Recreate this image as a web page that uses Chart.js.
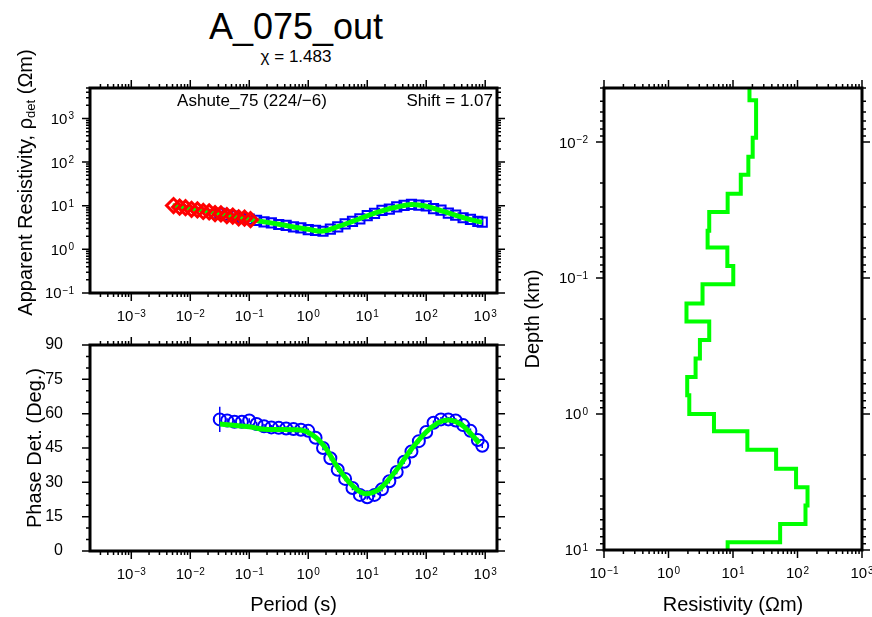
<!DOCTYPE html>
<html>
<head>
<meta charset="utf-8">
<script src="https://cdn.jsdelivr.net/npm/chart.js@4.4.1/dist/chart.umd.min.js"></script>
<style>
  html, body { margin: 0; padding: 0; background: #fff; }
  #wrap { position: relative; width: 872px; height: 617px; font-family: "Liberation Sans", Arial, sans-serif; color: #000; }
  #wrap canvas { position: absolute; left: 0; top: 0; }
  .title { position: absolute; left: 96px; width: 400px; text-align: center; line-height: 1; }
</style>
</head>
<body>
<div id="wrap">
  <div class="title" style="top: 9px; font-size: 36px;">A_075_out</div>
  <div class="title" style="top: 48px; font-size: 17px;">χ = 1.483</div>
  <canvas id="rhoChart" width="872" height="617"></canvas>
  <canvas id="phaseChart" width="872" height="617"></canvas>
  <canvas id="modelChart" width="872" height="617"></canvas>
</div>
<script>
// ---- data ----
// observed periods (s), shared by apparent resistivity and phase
const obsPeriod = [0.0316, 0.0422, 0.0562, 0.075, 0.1, 0.133, 0.178, 0.237, 0.316, 0.422, 0.562, 0.75,
  1, 1.33, 1.78, 2.37, 3.16, 4.22, 5.62, 7.5, 10, 13.3, 17.8, 23.7, 31.6, 42.2, 56.2, 75,
  100, 133, 178, 237, 316, 422, 562, 750, 891]
const obsRho = [6.7, 6.1, 5.8, 5.2, 4.95, 4.6, 4.25, 4.05, 3.72, 3.55, 3.27, 3.1,
  2.85, 2.72, 2.6, 2.92, 3.28, 3.85, 4.4, 5.0, 5.95, 6.7, 7.8, 8.4, 9.4, 10.2, 10.8, 10.3,
  9.9, 8.6, 7.9, 6.8, 6.1, 5.3, 4.85, 4.4, 4.2]
const obsPhase = [57.5, 57, 56.5, 56.5, 57, 55.5, 54.5, 54, 53.8, 53.5, 53.3, 53,
  52.5, 49.5, 45, 40.5, 35.5, 31.5, 27.5, 24.5, 23.5, 24.5, 27, 30.5, 34.5, 39, 43.5, 48,
  52, 56, 57.5, 57.5, 57, 55, 52.5, 48.5, 46]
const phaseErr = [5.5, 1, 1, 1, 1, 1, 1, 1, 1, 1, 1, 1,
  1, 1, 1, 1, 1, 1, 1, 1, 1, 1, 1, 1, 1, 1, 1, 1,
  1, 1, 1, 1, 1, 1, 1, 1, 1]

// short-period (red) apparent resistivity
const shortPeriod = [0.0052, 0.0066, 0.0083, 0.0105, 0.0132, 0.0166, 0.0209, 0.0263, 0.0331, 0.0417, 0.0525, 0.0661, 0.0832, 0.105]
const shortRho = [10.1, 9.3, 9.0, 8.3, 8.0, 7.4, 7.2, 6.6, 6.5, 5.9, 5.8, 5.3, 5.2, 4.8]

// model response (green)
const respPeriod = [0.005, 0.01, 0.0316, 0.1, 0.316, 1, 1.78, 3.16, 5.62, 10, 17.8, 31.6, 56.2, 100, 178, 316, 562, 891]
const respRho = [10.0, 8.7, 6.6, 4.9, 3.76, 2.88, 2.63, 3.31, 4.37, 5.89, 7.67, 9.33, 10.7, 9.77, 7.76, 6.03, 4.79, 4.17]
const respPhasePeriod = [0.0316, 0.1, 0.178, 0.575, 1, 1.78, 3.16, 5.62, 8.71, 12.6, 17.8, 31.6, 56.2, 100, 158, 229, 316, 437, 794]
const respPhase = [55.5, 54.3, 53.2, 53.0, 51.8, 46.5, 36.5, 28.5, 25.2, 25.6, 28, 35.5, 44.5, 52, 56, 57.2, 56.5, 54.3, 47.1]

// layered resistivity model: layer bases (km) and layer resistivities (ohm-m)
const layerBase = [0.00493, 0.0093, 0.0128, 0.0174, 0.024, 0.0327, 0.0448, 0.0597, 0.0816, 0.111, 0.154, 0.209,
  0.286, 0.391, 0.533, 0.729, 1.0, 1.34, 1.83, 2.53, 3.45, 4.71, 6.43, 8.77]
const layerRes = [18, 22.8, 20.2, 17.3, 13.2, 8.26, 4.28, 4.04, 8.17, 10.1, 3.37, 1.9,
  4.28, 3.07, 2.63, 1.95, 2.1, 5.07, 16.7, 46.6, 95, 143, 133, 53.8, 8.26]

const siteLabel = "Ashute_75 (224/\u22126)"
const shiftLabel = "Shift = 1.07"

// ---- helpers ----
const FONT = '"Liberation Sans", Arial, sans-serif'
Chart.defaults.font.family = FONT
Chart.defaults.color = "#000"

const BLUE = "rgb(0,0,255)"
const RED = "rgb(255,0,0)"
const GREEN = "rgb(0,255,0)"

const isPow10 = (v) => {
  const e = Math.log10(v)
  return Math.abs(e - Math.round(e)) < 1e-6
}

// 0 = no tick, 1 = minor, 2 = major
const tickKind = (scale, v) => {
  if (scale.type === "logarithmic") {
    const e = Math.floor(Math.log10(v) + 1e-9)
    const m = v / Math.pow(10, e)
    if (Math.abs(m - Math.round(m)) > 1e-6) return 0
    return Math.round(m) === 1 ? 2 : 1
  }
  return v % 15 === 0 ? 2 : 1
}

// "10" with a raised exponent; cy is the vertical centre of the digits
const drawPow = (ctx, e, x, cy, align) => {
  const base = "10"
  const exp = e < 0 ? "\u2212" + -e : String(e)
  ctx.font = "15px " + FONT
  const wb = ctx.measureText(base).width
  ctx.font = "10px " + FONT
  const we = ctx.measureText(exp).width
  const total = wb + 1 + we
  const x0 = align === "center" ? x - total / 2 : x - total
  ctx.textAlign = "left"
  ctx.textBaseline = "alphabetic"
  ctx.font = "15px " + FONT
  ctx.fillText(base, x0, cy + 5.4)
  ctx.font = "10px " + FONT
  ctx.fillText(exp, x0 + wb + 1, cy - 5.4 + 6.4)
}

// thick frame, outward ticks on all four sides, power-of-ten annotations
const gmtFrame = {
  id: "gmtFrame",
  afterDraw(chart) {
    const { ctx, chartArea: a } = chart
    const xs = chart.scales.x
    const ys = chart.scales.y
    ctx.save()
    ctx.strokeStyle = "#000"
    ctx.fillStyle = "#000"
    ctx.lineWidth = 1.5
    ctx.beginPath()
    xs.ticks.forEach((t) => {
      const k = tickKind(xs, t.value)
      if (!k) return
      const len = k === 2 ? 8 : 4
      const p = xs.getPixelForValue(t.value)
      ctx.moveTo(p, a.bottom)
      ctx.lineTo(p, a.bottom + len)
      ctx.moveTo(p, a.top)
      ctx.lineTo(p, a.top - len)
    })
    ys.ticks.forEach((t) => {
      const k = tickKind(ys, t.value)
      if (!k) return
      const len = k === 2 ? 8 : 4
      const p = ys.getPixelForValue(t.value)
      ctx.moveTo(a.left, p)
      ctx.lineTo(a.left - len, p)
      ctx.moveTo(a.right, p)
      ctx.lineTo(a.right + len, p)
    })
    ctx.stroke()
    ctx.lineWidth = 3
    ctx.strokeRect(a.left, a.top, a.right - a.left, a.bottom - a.top)

    if (xs.type === "logarithmic") {
      xs.ticks.forEach((t) => {
        if (isPow10(t.value)) drawPow(ctx, Math.round(Math.log10(t.value)), xs.getPixelForValue(t.value), a.bottom + 22.5, "center")
      })
    }
    if (ys.type === "logarithmic") {
      ys.ticks.forEach((t) => {
        if (isPow10(t.value)) drawPow(ctx, Math.round(Math.log10(t.value)), a.left - 16, ys.getPixelForValue(t.value), "right")
      })
    }
    ctx.restore()
  },
}

// labels inside the resistivity panel + y title with subscript
const rhoText = {
  id: "rhoText",
  afterDraw(chart) {
    const { ctx, chartArea: a } = chart
    ctx.save()
    ctx.fillStyle = "#000"
    ctx.font = "17px " + FONT
    ctx.textBaseline = "middle"
    ctx.textAlign = "center"
    ctx.fillText(siteLabel, 252, a.top + 13)
    ctx.textAlign = "right"
    ctx.fillText(shiftLabel, a.right - 4, a.top + 13)

    // rotated y title: Apparent Resistivity, rho_det (Ohm m)
    const big = "20px " + FONT
    const small = "13px " + FONT
    const parts = [
      { t: "Apparent Resistivity, \u03C1", f: big, dy: 0 },
      { t: "det", f: small, dy: 5 },
      { t: " (\u03A9m)", f: big, dy: 0 },
    ]
    let total = 0
    parts.forEach((p) => {
      ctx.font = p.f
      p.w = ctx.measureText(p.t).width
      total += p.w
    })
    ctx.translate(26, (a.top + a.bottom) / 2 - 8)
    ctx.rotate(-Math.PI / 2)
    ctx.textAlign = "left"
    ctx.textBaseline = "middle"
    let x = -total / 2
    parts.forEach((p) => {
      ctx.font = p.f
      ctx.fillText(p.t, x, p.dy)
      x += p.w
    })
    ctx.restore()
  },
}

const phaseErrorBars = {
  id: "phaseErrorBars",
  beforeDatasetsDraw(chart) {
    const { ctx } = chart
    const xs = chart.scales.x
    const ys = chart.scales.y
    ctx.save()
    ctx.strokeStyle = BLUE
    ctx.lineWidth = 1.5
    ctx.beginPath()
    obsPeriod.forEach((t, i) => {
      const px = xs.getPixelForValue(t)
      ctx.moveTo(px, ys.getPixelForValue(obsPhase[i] - phaseErr[i]))
      ctx.lineTo(px, ys.getPixelForValue(obsPhase[i] + phaseErr[i]))
    })
    ctx.stroke()
    ctx.restore()
  },
}

const fixX = (h) => (s) => {
  s.height = h
  s.paddingLeft = 0
  s.paddingRight = 0
}
const fixY = (w) => (s) => {
  s.width = w
  s.paddingTop = 0
  s.paddingBottom = 0
}

const periodMin = Math.pow(10, -3.7)
const periodMax = Math.pow(10, 3.2)

const logAxis = (min, max, extra) => Object.assign({
  type: "logarithmic",
  min: min,
  max: max,
  grid: { display: false },
  border: { display: false },
  ticks: { display: false, autoSkip: false },
}, extra)

const xTitle = (text) => ({ display: true, text: text, font: { size: 20 }, padding: { top: 0, bottom: 0 } })

const zip = (xs, ys) => xs.map((x, i) => ({ x: x, y: ys[i] }))

const baseOptions = (padding) => ({
  responsive: false,
  animation: false,
  events: [],
  layout: { padding: padding },
  plugins: { legend: { display: false }, tooltip: { enabled: false } },
})

// ---- apparent resistivity ----
new Chart(document.getElementById("rhoChart"), {
  type: "scatter",
  data: {
    datasets: [
      {
        label: "short period",
        data: zip(shortPeriod, shortRho),
        pointStyle: "rectRot",
        pointRadius: 7,
        borderColor: RED,
        borderWidth: 3,
        backgroundColor: "rgba(0,0,0,0)",
      },
      {
        label: "response",
        data: zip(respPeriod, respRho),
        showLine: true,
        borderColor: GREEN,
        borderWidth: 5,
        pointRadius: 0,
        tension: 0.4,
      },
      {
        label: "observed",
        data: zip(obsPeriod, obsRho),
        pointStyle: "rect",
        pointRadius: 6.5,
        borderColor: BLUE,
        borderWidth: 2,
        backgroundColor: "rgba(0,0,0,0)",
      },
    ],
  },
  options: Object.assign(baseOptions({ left: 0, top: 88, right: 375, bottom: 284 }), {
    scales: {
      x: logAxis(periodMin, periodMax, { afterFit: fixX(40) }),
      y: logAxis(0.1, 5000, { afterFit: fixY(90) }),
    },
  }),
  plugins: [gmtFrame, rhoText],
})

// ---- phase ----
new Chart(document.getElementById("phaseChart"), {
  type: "scatter",
  data: {
    datasets: [
      {
        label: "response",
        data: zip(respPhasePeriod, respPhase),
        showLine: true,
        borderColor: GREEN,
        borderWidth: 5,
        pointRadius: 0,
        tension: 0.4,
      },
      {
        label: "observed",
        data: zip(obsPeriod, obsPhase),
        pointStyle: "circle",
        pointRadius: 6,
        borderColor: BLUE,
        borderWidth: 2,
        backgroundColor: "rgba(0,0,0,0)",
      },
    ],
  },
  options: Object.assign(baseOptions({ left: 0, top: 345, right: 375, bottom: 0 }), {
    scales: {
      x: logAxis(periodMin, periodMax, { title: xTitle("Period (s)"), afterFit: fixX(66) }),
      y: {
        type: "linear",
        min: 0,
        max: 90,
        grid: { display: false },
        border: { display: false },
        ticks: { stepSize: 5, autoSkip: false, padding: 19, font: { size: 16 }, callback: (v) => (v % 15 === 0 ? String(v) : "") },
        title: { display: true, text: "Phase Det. (Deg.)", font: { size: 20 }, padding: { top: 23, bottom: 0 } },
        afterFit: fixY(90),
      },
    },
  }),
  plugins: [phaseErrorBars, gmtFrame],
})

// ---- layered model ----
const stepPts = []
layerRes.forEach((r, i) => {
  const top = i === 0 ? 0.001 : layerBase[i - 1]
  const bot = i < layerBase.length ? layerBase[i] : 20
  stepPts.push({ x: r, y: top }, { x: r, y: bot })
})

new Chart(document.getElementById("modelChart"), {
  type: "scatter",
  data: {
    datasets: [
      {
        label: "model",
        data: stepPts,
        showLine: true,
        borderColor: GREEN,
        borderWidth: 4,
        borderJoinStyle: "miter",
        pointRadius: 0,
        tension: 0,
      },
    ],
  },
  options: Object.assign(baseOptions({ left: 514, top: 88, right: 10, bottom: 0 }), {
    scales: {
      x: logAxis(0.1, 1000, { title: xTitle("Resistivity (\u03A9m)"), afterFit: fixX(67) }),
      y: logAxis(0.004, 10, {
        reverse: true,
        title: { display: true, text: "Depth (km)", font: { size: 20 }, padding: { top: 7, bottom: 0 } },
        afterFit: fixY(90),
      }),
    },
  }),
  plugins: [gmtFrame],
})
</script>
</body>
</html>
